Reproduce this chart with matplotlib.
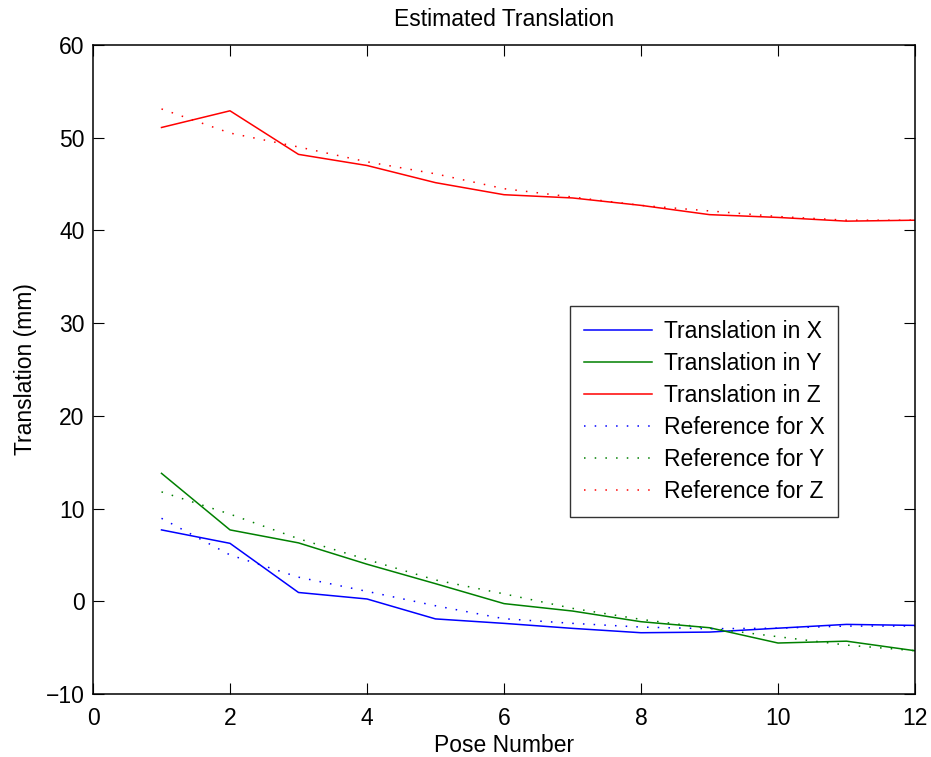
import matplotlib

matplotlib.use("Agg")
import matplotlib.pyplot as plt  # noqa: E402

plt.rcParams["font.family"] = ["Liberation Sans", "DejaVu Sans"]

# ── Data ──
pose = [1, 2, 3, 4, 5, 6, 7, 8, 9, 10, 11, 12]

trans_x = [7.7, 6.25, 0.95, 0.25, -1.9, -2.38, -2.92, -3.39, -3.32, -2.9, -2.49, -2.6]
trans_y = [13.8, 7.7, 6.3, 4.0, 1.9, -0.25, -1.05, -2.2, -2.85, -4.5, -4.3, -5.33]
trans_z = [51.1, 52.9, 48.2, 47.0, 45.15, 43.85, 43.5, 42.7, 41.7, 41.4, 41.0, 41.1]

ref_x = [8.95, 5.0, 2.6, 1.07, -0.48, -1.88, -2.38, -2.78, -2.96, -2.9, -2.67, -2.67]
ref_y = [11.8, 9.4, 6.75, 4.5, 2.3, 0.8, -0.76, -1.95, -2.9, -3.82, -4.72, -5.33]
ref_z = [53.1, 50.5, 49.0, 47.4, 46.1, 44.5, 43.6, 42.7, 42.1, 41.5, 41.1, 41.1]

labels = [
    "Translation in X",
    "Translation in Y",
    "Translation in Z",
    "Reference for X",
    "Reference for Y",
    "Reference for Z",
]

BLUE, GREEN, RED = "#0000ff", "#008000", "#ff0000"
DOTS = (0, (1, 6))
FS = 16.5

fig = plt.figure(figsize=(9.31, 7.57), dpi=100, facecolor="white")
ax = fig.add_axes([0.0999, 0.0832, 0.8829, 0.8574])

ax.plot(pose, trans_x, color=BLUE, lw=1.1, label=labels[0])
ax.plot(pose, trans_y, color=GREEN, lw=1.1, label=labels[1])
ax.plot(pose, trans_z, color=RED, lw=1.1, label=labels[2])
ax.plot(pose, ref_x, color=BLUE, lw=1.1, linestyle=DOTS, label=labels[3])
ax.plot(pose, ref_y, color=GREEN, lw=1.1, linestyle=DOTS, label=labels[4])
ax.plot(pose, ref_z, color=RED, lw=1.1, linestyle=DOTS, label=labels[5])

ax.set_xlim(0, 12)
ax.set_ylim(-10, 60)
ax.set_xticks(range(0, 13, 2))
ax.set_yticks(range(-10, 61, 10))
ax.tick_params(direction="in", top=True, right=True, labelsize=FS, length=8, pad=6)
ax.tick_params(axis="x", pad=9)
for s in ax.spines.values():
    s.set_linewidth(1.1)
ax.set_xlabel("Pose Number", fontsize=FS, labelpad=3)
ax.set_ylabel("Translation (mm)", fontsize=FS, labelpad=6)
ax.set_title("Estimated Translation", fontsize=FS, pad=14)

leg = ax.legend(
    loc="upper left",
    bbox_to_anchor=(0.580, 0.598),
    fontsize=FS,
    frameon=True,
    fancybox=False,
    edgecolor="black",
    handlelength=3.0,
    borderpad=0.6,
    labelspacing=0.4,
    handletextpad=0.5,
    borderaxespad=0,
)
leg.get_frame().set_linewidth(1.0)

fig.savefig("out.png", dpi=100, facecolor="white")
